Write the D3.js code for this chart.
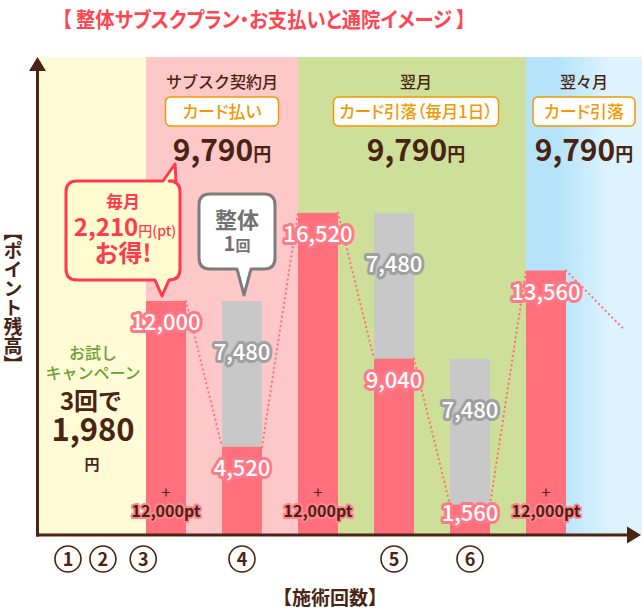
<!DOCTYPE html>
<html lang="ja">
<head>
<meta charset="utf-8">
<script src="https://cdn.jsdelivr.net/npm/d3@7/dist/d3.min.js"></script>
<style>
  html, body { margin: 0; padding: 0; background: #fff; }
  svg { display: block; font-family: "Noto Sans CJK JP", "Noto Sans", sans-serif; }
  .palt { font-feature-settings: "palt"; }
</style>
</head>
<body>
<svg id="chart" width="642" height="612"></svg>
<script>
// ---- data ----
const title = "【 整体サブスクプラン・お支払いと通院イメージ 】";
const yTitle = "【ポイント残高】";
const xTitle = "【施術回数】";

// columns of the point chart (slot index along the x axis)
const slots = [0, 1, 2, 3, 4, 5];
const balance = [12000, 4520, 16520, 9040, 1560, 13560];   // points left after the column
const used = [0, 7480, 0, 7480, 7480, 0];                  // points spent on a visit
const granted = [12000, 0, 12000, 0, 0, 12000];            // monthly point grant
const trailEnd = { slot: 6.3, value: 10500 };              // balance trend leaving the chart

// months of the plan
const months = ["サブスク契約月", "翌月", "翌々月"];
const payments = ["カード払い", "カード引落（毎月1日）", "カード引落"];
const fees = [9790, 9790, 9790];
const monthStartSlot = [0, 2, 5];

// visit markers under the axis
const visitLabels = ["①", "②", "③", "④", "⑤", "⑥"];
const visitSlots = [-1.29, -0.83, -0.3, 1, 3, 4];

// trial campaign
const trialLines = ["お試し", "キャンペーン"];
const trialVisits = "3回で";
const trialPrice = 1980;
const trialUnit = "円";

// callouts
const savingLines = ["毎月", "お得!"];
const saving = 2210;
const savingUnit = "円(pt)";
const visitNote = ["整体", "1", "回"];

// ---- styles ----
const C = {
  brown: "#4a2412",
  red: "#ff6f7c",
  redText: "#ff3a50",
  gray: "#c8c8c8",
  grayText: "#727272",
  yellow: "#fffbd7",
  pink: "#ffc8c8",
  green: "#cddf98",
  orange: "#f39800",
  trial: "#68a232",
  title: "#ff4650"
};
const badgeWidth = [113, 165, 102];
const fmt = d3.format(",");

const svg = d3.select("#chart");
const W = 642;

const x = d3.scaleLinear().domain([0, 1]).range([146, 222]);   // left edge of a slot
const barW = 40;
const cx = s => x(s) + barW / 2;
const y = d3.scaleLinear().domain([0, 20000]).range([535, 145]);
const axisX = 37.5, axisTop = 57;

// ---- background bands ----
const defs = svg.append("defs");
const grad = defs.append("linearGradient").attr("id", "skyGrad")
  .attr("gradientUnits", "userSpaceOnUse")
  .attr("x1", x(5.4)).attr("x2", x(6.1)).attr("y1", 0).attr("y2", 0);
grad.append("stop").attr("offset", 0).attr("stop-color", "#b4e3fa");
grad.append("stop").attr("offset", 1).attr("stop-color", "#ddf3fd");

const bands = [
  { x0: axisX, x1: x(monthStartSlot[0]), fill: C.yellow },
  { x0: x(monthStartSlot[0]), x1: x(monthStartSlot[1]), fill: C.pink },
  { x0: x(monthStartSlot[1]), x1: x(monthStartSlot[2]), fill: C.green },
  { x0: x(monthStartSlot[2]), x1: W, fill: "url(#skyGrad)" }
];
svg.append("g").selectAll("rect").data(bands).join("rect")
  .attr("x", d => d.x0).attr("width", d => d.x1 - d.x0)
  .attr("y", axisTop).attr("height", y(0) - axisTop)
  .attr("fill", d => d.fill);

// ---- title ----
const titleText = svg.append("text").attr("class", "palt").attr("x", 62).attr("y", 27)
  .attr("font-size", 21).attr("font-weight", 700).attr("fill", C.title)
  .text(title);
if (Math.abs(titleText.node().getComputedTextLength() - 404) > 6)
  titleText.attr("textLength", 404).attr("lengthAdjust", "spacingAndGlyphs");

// ---- month headers ----
const monthCenters = months.map((m, i) => {
  const x0 = x(monthStartSlot[i]);
  const x1 = i + 1 < months.length ? x(monthStartSlot[i + 1]) : W;
  return (x0 + x1) / 2;
});
const head = svg.append("g").selectAll("g").data(months).join("g")
  .attr("transform", (d, i) => `translate(${monthCenters[i] + (i === 1 ? 4 : 0)},0)`);
head.append("text").attr("y", 88).attr("text-anchor", "middle")
  .attr("font-size", 16).attr("font-weight", 500).attr("fill", C.brown)
  .text(d => d);
head.each(function (d, i) {
  const g = d3.select(this);
  const w = badgeWidth[i];
  g.append("rect")
    .attr("x", -w / 2).attr("y", 97).attr("width", w).attr("height", 29)
    .attr("rx", 5).attr("fill", "#fff").attr("stroke", C.orange).attr("stroke-width", 1.5);
  const t = g.append("text").attr("class", "palt").attr("y", 118).attr("text-anchor", "middle")
    .attr("font-size", 17).attr("font-weight", 500).attr("fill", C.orange)
    .text(payments[i]);
  const natural = t.node().getComputedTextLength();
  if (natural > w - 12) t.attr("textLength", w - 12).attr("lengthAdjust", "spacingAndGlyphs");
  const fee = g.append("text").attr("y", 161).attr("text-anchor", "middle")
    .attr("fill", C.brown).attr("font-weight", 700);
  fee.append("tspan").attr("font-size", 30).text(fmt(fees[i]));
  fee.append("tspan").attr("font-size", 18).text("円");
});

// ---- bars ----
const cols = slots.map((s, i) => ({ s, bal: balance[i], used: used[i], grant: granted[i] }));
svg.append("g").selectAll("rect.used").data(cols.filter(d => d.used > 0)).join("rect")
  .attr("x", d => x(d.s)).attr("width", barW)
  .attr("y", d => y(d.bal + d.used)).attr("height", d => y(d.bal) - y(d.bal + d.used))
  .attr("fill", C.gray);
svg.append("g").selectAll("rect.bal").data(cols).join("rect")
  .attr("x", d => x(d.s)).attr("width", barW)
  .attr("y", d => y(d.bal)).attr("height", d => y(0) - y(d.bal))
  .attr("fill", C.red);

// ---- dotted balance trend ----
const trend = [];
cols.forEach((d, i) => {
  if (i > 0) trend.push([[x(cols[i - 1].s) + barW, y(cols[i - 1].bal)], [x(d.s), y(d.bal)]]);
});
const last = cols[cols.length - 1];
trend.push([[x(last.s) + barW, y(last.bal)], [x(trailEnd.slot), y(trailEnd.value)]]);
svg.append("g").selectAll("line").data(trend).join("line")
  .attr("x1", d => d[0][0]).attr("y1", d => d[0][1])
  .attr("x2", d => d[1][0]).attr("y2", d => d[1][1])
  .attr("stroke", C.red).attr("stroke-width", 2.2)
  .attr("stroke-dasharray", "0.1 4.6").attr("stroke-linecap", "round");

// ---- value labels ----
function halo(sel, stroke, width) {
  return sel.attr("stroke", stroke).attr("stroke-width", width)
    .attr("stroke-linejoin", "round").attr("paint-order", "stroke");
}
const lab = svg.append("g").attr("font-size", 22).attr("font-weight", 500)
  .attr("text-anchor", "middle").attr("fill", "#fff");
halo(lab.selectAll("text.used").data(cols.filter(d => d.used > 0)).join("text")
  .attr("x", d => cx(d.s))
  .attr("y", d => (y(d.bal) + y(d.bal + d.used)) / 2 - 22 + 8)
  .text(d => fmt(d.used)), "#a0a0a0", 6);
halo(lab.selectAll("text.bal").data(cols).join("text")
  .attr("x", d => cx(d.s))
  .attr("y", d => Math.min(y(d.bal) + 21, y(0) - 22) + 8)
  .text(d => fmt(d.bal)), "#ff7a88", 6);

// monthly grant labels
const grants = svg.append("g").attr("text-anchor", "middle").attr("font-weight", 700)
  .attr("fill", C.brown)
  .selectAll("g").data(cols.filter(d => d.grant > 0)).join("g")
  .attr("transform", d => `translate(${cx(d.s)},0)`);
grants.append("text").attr("y", 498).attr("font-size", 16).attr("font-weight", 400).text("+");
halo(grants.append("text").attr("y", 517).attr("font-size", 16)
  .text(d => fmt(d.grant) + "pt"), "#ff8591", 4);

// ---- axes ----
const axes = svg.append("g").attr("stroke", C.brown).attr("fill", C.brown);
axes.append("line").attr("x1", axisX).attr("x2", axisX).attr("y1", y(0) + 1.5).attr("y2", 68)
  .attr("stroke-width", 3);
axes.append("line").attr("x1", axisX - 1.5).attr("x2", 630).attr("y1", y(0)).attr("y2", y(0))
  .attr("stroke-width", 3);
axes.append("path").attr("stroke", "none")
  .attr("d", `M${axisX},57 L${axisX + 8.5},71 L${axisX - 8.5},71 Z`);
axes.append("path").attr("stroke", "none")
  .attr("d", `M641,${y(0)} L627,${y(0) - 8.5} L627,${y(0) + 8.5} Z`);

// visit markers
const vm = svg.append("g").selectAll("g").data(visitLabels).join("g")
  .attr("transform", (d, i) => `translate(${cx(visitSlots[i])},559)`);
vm.append("circle").attr("r", 13).attr("fill", "#fff").attr("stroke", C.brown).attr("stroke-width", 1.6);
vm.append("text").attr("y", 6.5).attr("text-anchor", "middle").attr("font-size", 18)
  .attr("font-weight", 700).attr("fill", C.brown)
  .text((d, i) => String(visitLabels.indexOf(d) + 1));

// axis titles
svg.append("text").attr("x", 330).attr("y", 605).attr("text-anchor", "middle")
  .attr("font-size", 19).attr("font-weight", 700).attr("fill", C.brown).text(xTitle);
svg.append("text").attr("x", 13).attr("y", 298).attr("text-anchor", "middle")
  .attr("writing-mode", "vertical-rl").style("writing-mode", "vertical-rl")
  .attr("font-size", 19).attr("font-weight", 700).attr("fill", C.brown).text(yTitle);

// ---- trial campaign ----
const tr = svg.append("g").attr("text-anchor", "middle");
tr.selectAll("text.t").data(trialLines).join("text")
  .attr("x", 93).attr("y", (d, i) => 359 + i * 20)
  .attr("font-size", 16).attr("font-weight", 500).attr("fill", C.trial).text(d => d);
tr.append("text").attr("x", 91).attr("y", 410).attr("font-size", 24).attr("font-weight", 700)
  .attr("fill", C.brown).text(trialVisits);
tr.append("text").attr("x", 93).attr("y", 441).attr("font-size", 31).attr("font-weight", 700)
  .attr("fill", C.brown).text(fmt(trialPrice));
tr.append("text").attr("x", 92).attr("y", 470).attr("font-size", 15).attr("font-weight", 700)
  .attr("fill", C.brown).text(trialUnit);

// ---- callouts ----
function bubble(x0, y0, x1, y1, r, pointers) {
  // rounded box with triangular pointers; pointers = [{edge, a, b, tx, ty}]
  const top = pointers.find(p => p.edge === "top");
  const bot = pointers.find(p => p.edge === "bottom");
  let d = `M${x0 + r},${y0}`;
  if (top) d += ` L${top.a},${y0} L${top.tx},${top.ty} L${top.b},${y0}`;
  d += ` L${x1 - r},${y0} Q${x1},${y0} ${x1},${y0 + r} L${x1},${y1 - r} Q${x1},${y1} ${x1 - r},${y1}`;
  if (bot) d += ` L${bot.b},${y1} L${bot.tx},${bot.ty} L${bot.a},${y1}`;
  d += ` L${x0 + r},${y1} Q${x0},${y1} ${x0},${y1 - r} L${x0},${y0 + r} Q${x0},${y0} ${x0 + r},${y0} Z`;
  return d;
}
// savings bubble: points up to the first month fee and down to the first bar
const sb = svg.append("g");
sb.append("path")
  .attr("d", bubble(66, 181, 180, 280, 11, [
    { edge: "top", a: 163, b: 176, tx: 175, ty: 164 },
    { edge: "bottom", a: 155, b: 169, tx: cx(0) - 4, ty: y(balance[0]) - 5 }
  ]))
  .attr("fill", "#fffccf").attr("stroke", "#ff3a50").attr("stroke-width", 3).attr("stroke-linejoin", "round");
const sbt = sb.append("g").attr("text-anchor", "middle").attr("fill", C.redText).attr("font-weight", 700);
sbt.append("text").attr("x", 123).attr("y", 208).attr("font-size", 17).text(savingLines[0]);
const st = sbt.append("text").attr("x", 125).attr("y", 236);
st.append("tspan").attr("font-size", 24).text(fmt(saving));
st.append("tspan").attr("font-size", 14).attr("font-weight", 500).text(savingUnit);
sbt.append("text").attr("x", 123).attr("y", 262).attr("font-size", 24).text(savingLines[1]);

// visit bubble: points at the first used bar
const vb = svg.append("g");
vb.append("path")
  .attr("d", bubble(199, 194, 275, 269, 11, [
    { edge: "bottom", a: cx(1) - 5, b: cx(1) + 9, tx: cx(1) + 2, ty: y(balance[1] + used[1]) - 6 }
  ]))
  .attr("fill", "#fff").attr("stroke", "#7d7d7d").attr("stroke-width", 3).attr("stroke-linejoin", "round");
const vbt = vb.append("g").attr("text-anchor", "middle").attr("fill", C.grayText).attr("font-weight", 700);
vbt.append("text").attr("x", 237).attr("y", 228).attr("font-size", 22).text(visitNote[0]);
const vt = vbt.append("text").attr("x", 237).attr("y", 251);
vt.append("tspan").attr("font-size", 20).text(visitNote[1]);
vt.append("tspan").attr("font-size", 15).text(visitNote[2]);
</script>
</body>
</html>
